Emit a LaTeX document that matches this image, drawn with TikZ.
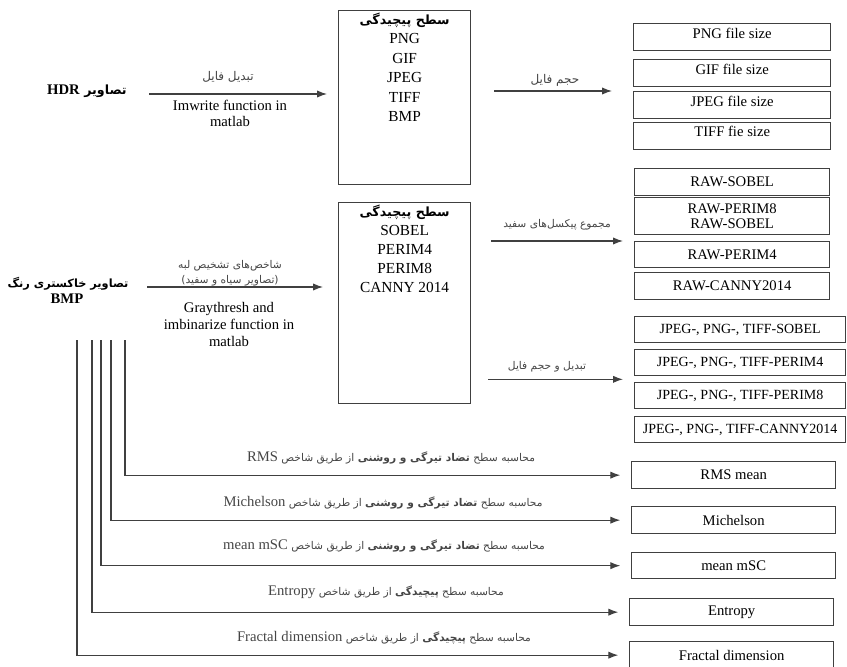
\documentclass[tikz,border=0pt]{standalone}
\usepackage{fontspec}
\setmainfont{Liberation Serif}
\newfontfamily\persfont[Script=Arabic]{DejaVu Sans}
\usetikzlibrary{arrows.meta}
\TeXXeTstate=1
\definecolor{linegray}{HTML}{404040}
\definecolor{notegray}{HTML}{454545}
\newcommand{\rl}[1]{{\persfont\beginR #1\endR}}
\newcommand{\lr}[1]{\beginL{\rmfamily\fontsize{11}{13}\selectfont #1}\endL}
\tikzset{
  boxline/.style={draw=linegray, line width=1pt, inner sep=0pt, anchor=north west},
  bigbox/.style={boxline, minimum width=99pt},
  sizebox/.style={boxline, minimum width=147.75pt, minimum height=20.25pt, text depth=5.5pt, font=\fontsize{11}{13}\selectfont},
  rawbox/.style={boxline, minimum width=146.25pt, minimum height=20.25pt, align=center, font=\fontsize{11}{11.25}\selectfont},
  jpgbox/.style={boxline, minimum width=158.25pt, minimum height=20.25pt, font=\fontsize{10.5}{13}\selectfont},
  outbox/.style={boxline, minimum width=153pt, minimum height=20.25pt, font=\fontsize{11}{13}\selectfont},
  arr/.style={-{Latex[length=7.5pt,width=5.5pt]}, draw=linegray, line width=0.9pt},
  note/.style={text=notegray, inner sep=0pt, align=center, font=\fontsize{8}{11.25}\selectfont},
  tag/.style={inner sep=0pt, font=\fontsize{9.5}{11}\selectfont},
  latin/.style={inner sep=0pt, align=center, font=\fontsize{11}{12}\selectfont}
}
\begin{document}
\begin{tikzpicture}[x=0.75pt,y=-0.75pt]
\useasboundingbox (0,0) rectangle (847,667);
% left
\node[tag, minimum width=93pt, anchor=base] (hdr) at (87,94) {\rl{\bfseries تصاویر \lr{HDR}}};
\node[tag, font=\fontsize{8.5}{10}\selectfont, minimum width=118.5pt, anchor=base] (gray) at (68,287) {\rl{\bfseries تصاویر خاکستری رنگ}};
\node[inner sep=0pt, font=\bfseries\fontsize{11}{13}\selectfont, anchor=base] (bmp) at (67,303) {BMP};
% middle boxes
\node[bigbox, minimum height=130.5pt] (fmtbox) at (338,10) {};
\node[anchor=north, align=center, inner sep=0pt, font=\fontsize{11.5}{14.6}\selectfont] (fmtlist) at ([yshift=-2pt]fmtbox.north)
  {\rl{\bfseries\fontsize{9.5}{11}\selectfont سطح پیچیدگی}\\PNG\\GIF\\JPEG\\TIFF\\BMP};
\node[bigbox, minimum height=150.75pt] (edgebox) at (338,202) {};
\node[anchor=north, align=center, inner sep=0pt, font=\fontsize{11.5}{14.25}\selectfont] (edgelist) at ([yshift=-2pt]edgebox.north)
  {\rl{\bfseries\fontsize{9.5}{11}\selectfont سطح پیچیدگی}\\SOBEL\\PERIM4\\PERIM8\\CANNY 2014};
% right boxes
\node[sizebox] (pngsz) at (633,23) {PNG file size};
\node[sizebox] (gifsz) at (633,59) {GIF file size};
\node[sizebox] (jpgsz) at (633,91) {JPEG file size};
\node[sizebox, text depth=6.5pt] (tifsz) at (633,122) {TIFF fie size};
\node[rawbox] (raw1) at (634,168) {RAW-SOBEL};
\node[rawbox, minimum height=27.75pt] (raw2) at (634,197) {RAW-PERIM8\\RAW-SOBEL};
\node[rawbox, minimum height=19.5pt] (raw4) at (634,241) {RAW-PERIM4};
\node[rawbox] (raw5) at (634,272) {RAW-CANNY2014};
\node[jpgbox, minimum height=19.5pt] (jp1) at (634,316) {JPEG-, PNG-, TIFF-SOBEL};
\node[jpgbox, minimum height=19.5pt] (jp4) at (634,349) {JPEG-, PNG-, TIFF-PERIM4};
\node[jpgbox, minimum height=19.5pt] (jp8) at (634,382) {JPEG-, PNG-, TIFF-PERIM8};
\node[jpgbox, minimum height=19.5pt] (jpc) at (634,416) {JPEG-, PNG-, TIFF-CANNY2014};
\node[outbox] (rmsbox) at (631,461) {RMS mean};
\node[outbox] (michbox) at (631,506) {Michelson};
\node[outbox, minimum height=19.5pt] (mscbox) at (631,552) {mean mSC};
\node[outbox] (entbox) at (629,598) {Entropy};
\node[outbox] (fracbox) at (629,641) {Fractal dimension};
% arrows
\draw[arr, shorten >=8.25pt] (hdr.base east) -- (hdr.base east -| fmtbox.west);
\draw[arr, shorten >=11.25pt] (gray.base east) -- (gray.base east -| edgebox.west);
\draw[arr, shorten <=17.25pt, shorten >=15.75pt] (fmtbox.east |- jpgsz.north) -- (jpgsz.north west);
\draw[arr, shorten <=15pt, shorten >=8.25pt] (edgebox.east |- raw4.north) -- (raw4.north west);
\draw[arr, shorten <=12.75pt, shorten >=8.25pt] ([yshift=-2.25pt]edgebox.east |- jp4.south) -- ([yshift=-2.25pt]jp4.south west);
\foreach \nm/\lx in {rms/125,mich/111,msc/101,ent/92,frac/77}{
  \coordinate (\nm leg) at (\lx,340);
  \draw[arr, shorten >=8pt] (\nm leg) |- (\nm box.west);
}
% labels
\node[note, font=\fontsize{9}{11}\selectfont] (cvtnote) at (228,77) {\rl{تبدیل فایل}};
\node[latin] (imwnote) at (230,113) {Imwrite function in\\matlab};
\node[note] (edgenote) at (230,273) {\rl{شاخص^^^^200cهای تشخیص لبه}\\\rl{(تصاویر سیاه و سفید)}};
\node[latin, font=\fontsize{11}{12.75}\selectfont] (binnote) at (229,324) {Graythresh and\\imbinarize function in\\matlab};
\node[note, font=\fontsize{9}{11}\selectfont] (sizenote) at (555,80) {\rl{حجم فایل}};
\node[note] (pixnote) at (557,225) {\rl{مجموع پیکسل^^^^200cهای سفید}};
\node[note] (cnvnote) at (547,367) {\rl{تبدیل و حجم فایل}};
\node[note] (rmsnote) at (391,458) {\rl{محاسبه سطح {\bfseries تضاد تیرگی و روشنی} از طریق شاخص \lr{RMS}}};
\node[note] (michnote) at (383,503) {\rl{محاسبه سطح {\bfseries تضاد تیرگی و روشنی} از طریق شاخص \lr{Michelson}}};
\node[note] (mscnote) at (384,546) {\rl{محاسبه سطح {\bfseries تضاد تیرگی و روشنی} از طریق شاخص \lr{mean mSC}}};
\node[note] (entnote) at (386,592) {\rl{محاسبه سطح {\bfseries پیچیدگی} از طریق شاخص \lr{Entropy}}};
\node[note] (fracnote) at (384,638) {\rl{محاسبه سطح {\bfseries پیچیدگی} از طریق شاخص \lr{Fractal dimension}}};
\end{tikzpicture}
\end{document}
